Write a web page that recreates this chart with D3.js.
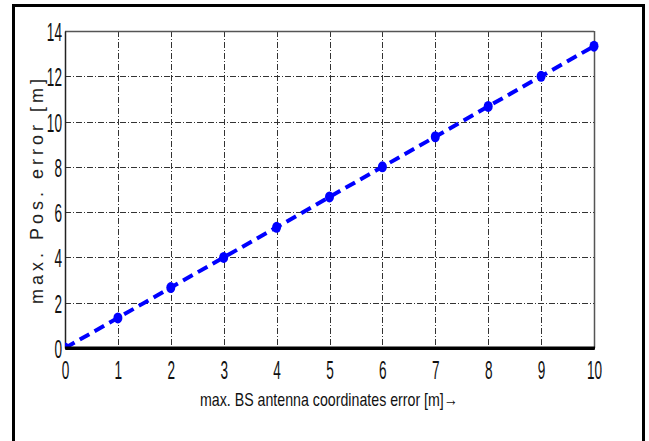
<!DOCTYPE html>
<html>
<head>
<meta charset="utf-8">
<script src="https://cdn.jsdelivr.net/npm/d3@7"></script>
<style>
  html, body { margin: 0; padding: 0; background: #fff; }
  svg { display: block; }
</style>
</head>
<body>
<svg id="chart" width="649" height="441"></svg>
<script>
const xValues = [0, 1, 2, 3, 4, 5, 6, 7, 8, 9, 10];
const yValues = [0, 1.33, 2.67, 4.0, 5.33, 6.67, 8.0, 9.33, 10.67, 12.0, 13.33];
const xTicks = [0, 1, 2, 3, 4, 5, 6, 7, 8, 9, 10];
const yTicks = [0, 2, 4, 6, 8, 10, 12, 14];
const xLabel = "max. BS antenna coordinates error [m]→";
const yLabel = "max. Pos. error [m]";

(function () {
const data = xValues.map((x, i) => ({ x, y: yValues[i] }));

const svg = d3.select("#chart");
const pL = 65, pR = 594, pT = 31, pB = 348;

const x = d3.scaleLinear().domain([0, 10]).range([pL, pR]);
const y = d3.scaleLinear().domain([0, 14]).range([pB, pT]);

// outer frame
svg.append("rect")
  .attr("x", 13.5).attr("y", 5.5)
  .attr("width", 630).attr("height", 460)
  .attr("fill", "none").attr("stroke", "#000").attr("stroke-width", 3);

// grid lines
const grid = svg.append("g").attr("stroke", "#333").attr("stroke-width", 1)
  .attr("stroke-dasharray", "6,2,1,2").attr("fill", "none");
grid.selectAll("line.v").data(xTicks.slice(1, -1)).join("line").attr("class", "v")
  .attr("x1", d => Math.round(x(d)) + 0.5).attr("x2", d => Math.round(x(d)) + 0.5)
  .attr("y1", pT).attr("y2", pB);
grid.selectAll("line.h").data(yTicks.slice(1, -1)).join("line").attr("class", "h")
  .attr("y1", d => Math.round(y(d)) + 0.5).attr("y2", d => Math.round(y(d)) + 0.5)
  .attr("x1", pL).attr("x2", pR);

// top and right box lines
svg.append("line").attr("x1", pL).attr("x2", pR).attr("y1", pT + 0.5).attr("y2", pT + 0.5)
  .attr("stroke", "#555").attr("stroke-width", 1.5);
svg.append("line").attr("x1", pR + 0.5).attr("x2", pR + 0.5).attr("y1", pT).attr("y2", pB)
  .attr("stroke", "#555").attr("stroke-width", 1.5);

// axes
const xAxis = svg.append("g").attr("transform", `translate(0,${pB})`)
  .call(d3.axisBottom(x).tickValues(xTicks).tickFormat(d3.format("d")).tickSize(0).tickPadding(0));
const yAxis = svg.append("g").attr("transform", `translate(${pL},0)`)
  .call(d3.axisLeft(y).tickValues(yTicks).tickFormat(d3.format("d")).tickSize(0).tickPadding(0));

xAxis.select(".domain").attr("stroke", "#000").attr("stroke-width", 3);
yAxis.select(".domain").attr("stroke", "#222").attr("stroke-width", 1.5);

xAxis.selectAll(".tick text")
  .attr("y", 0).attr("dy", 0)
  .attr("font-family", "Arial, 'Liberation Sans', sans-serif")
  .attr("font-size", 20).attr("fill", "#111")
  .attr("transform", "translate(0,31) scale(0.68,1.3)");
yAxis.selectAll(".tick text")
  .attr("x", 0).attr("dy", 0)
  .attr("text-anchor", "end")
  .attr("font-family", "Arial, 'Liberation Sans', sans-serif")
  .attr("font-size", 20).attr("fill", "#111")
  .attr("transform", "translate(-3,9.5) scale(0.68,1.3)");

// clip for data
svg.append("clipPath").attr("id", "plotclip").append("rect")
  .attr("x", pL).attr("y", pT - 10).attr("width", pR - pL + 10).attr("height", pB - pT + 10);

const plot = svg.append("g").attr("clip-path", "url(#plotclip)");
plot.append("path").datum(data)
  .attr("d", d3.line().x(d => x(d.x)).y(d => y(d.y)))
  .attr("fill", "none").attr("stroke", "#0000ff").attr("stroke-width", 4)
  .attr("stroke-dasharray", "11,6");
plot.selectAll("ellipse").data(data).join("ellipse")
  .attr("cx", d => x(d.x)).attr("cy", d => y(d.y))
  .attr("rx", 4.5).attr("ry", 5.5).attr("fill", "#0000ff");

// redraw bottom axis line over markers
svg.append("line").attr("x1", pL).attr("x2", pR + 1).attr("y1", pB).attr("y2", pB)
  .attr("stroke", "#000").attr("stroke-width", 3);

// axis labels
svg.append("text")
  .attr("x", 200).attr("y", 406)
  .attr("font-family", "Arial, 'Liberation Sans', sans-serif")
  .attr("font-size", 19).attr("fill", "#111")
  .attr("textLength", 258).attr("lengthAdjust", "spacingAndGlyphs")
  .text(xLabel);

svg.append("text")
  .attr("transform", `translate(43,${(pT + pB) / 2}) rotate(-90)`)
  .attr("text-anchor", "middle")
  .attr("font-family", "Arial, 'Liberation Sans', sans-serif")
  .attr("font-size", 18).attr("fill", "#222")
  .attr("letter-spacing", 4)
  .text(yLabel);
})();
</script>
</body>
</html>
